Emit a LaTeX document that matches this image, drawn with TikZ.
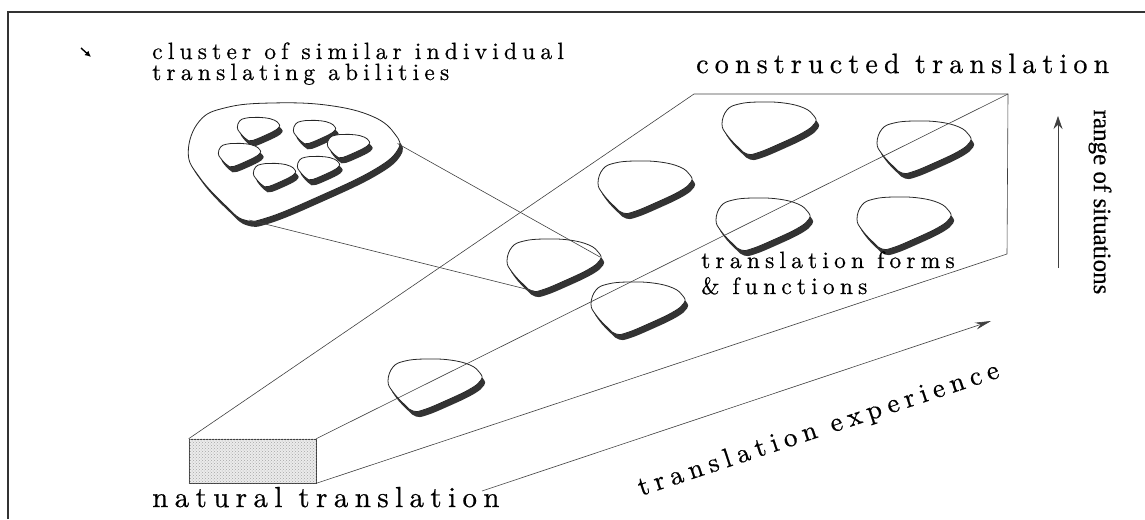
\documentclass[tikz,border=0pt]{standalone}
\usepackage{fontspec}
\usetikzlibrary{arrows.meta,patterns}
\newfontfamily\spacedfont{lmroman10-regular.otf}[LetterSpace=22,FakeBold=0.6]
\newfontfamily\timesfont{Liberation Serif}[FakeBold=0.4]
\newcommand\pickpath{plot[smooth cycle,tension=0.7] coordinates {(-42,-20) (-30,-26) (-10,-28) (15,-27) (35,-22) (45,-14) (46,-7) (35,2) (10,14) (-12,23) (-22,24) (-30,18) (-42,5) (-47,-6)}}
\begin{document}
\begin{tikzpicture}[x=1pt,y=-1pt,
    edge/.style={draw=black!75,line width=0.6pt},
    frame/.style={draw=black!80,line width=1.8pt},
    pickbody/.style={fill=white,draw=black!85,line width=0.8pt},
    pickshade/.style={fill=black!80},
    bigtext/.style={font=\spacedfont\fontsize{29}{34}\selectfont,inner sep=0},
    smalltext/.style={font=\spacedfont\fontsize{23.5}{21}\selectfont,inner sep=0,align=left},
    pics/pick/.style={code={
      \begin{scope}[shift={(3,5.5)},scale=#1]
        \fill[pickshade] \pickpath;
      \end{scope}
      \begin{scope}[scale=#1]
        \path[pickbody] \pickpath;
        \coordinate (-r) at (46,-10);
        \coordinate (-b) at (-20,24);
      \end{scope}
    }}]
  \useasboundingbox (0,0) rectangle (1145,519);
  \draw[frame] (8,519) -- (8,12) -- (1145,12);

  % the cluster and its members
  \pic (cl) at (294,166) {pick=2.25};
  \pic at (258.5,130) {pick=0.45};
  \pic at (314.5,133) {pick=0.45};
  \pic at (348.5,147) {pick=0.45};
  \pic at (239.5,156) {pick=0.45};
  \pic at (274.5,176) {pick=0.45};
  \pic at (318.5,169) {pick=0.45};

  % abilities along the block
  \pic (p1) at (769,130) {pick=1};
  \pic (p2) at (924,149) {pick=1};
  \pic (p3) at (645,189) {pick=1};
  \pic (p4) at (763,226) {pick=1};
  \pic (p5) at (904,225) {pick=1};
  \pic (p6) at (554,267) {pick=1};
  \pic (p7) at (638,310) {pick=1};
  \pic (p8) at (435,387) {pick=1};

  \node[draw=black!75,fill=black!8,line width=0.6pt,inner sep=0,
    minimum width=127pt,minimum height=44pt] (natbox) at (252.5,461) {};
  \fill[pattern=crosshatch dots,pattern color=black!35]
    (natbox.south west) rectangle (natbox.north east);
  \coordinate (ftl) at (694,94);
  \coordinate (ftr) at (1008,94);
  \coordinate (fbr) at (1007,254);
  \coordinate (xs) at (482,491);
  \coordinate (xe) at (991,321);
  \coordinate (rs) at (1058,268);
  \coordinate (re) at (1058,116);

  \draw[edge] (natbox.north west) -- (ftl) -- (ftr) -- (fbr) -- (natbox.south east);
  \draw[edge] (natbox.north east) -- (ftr);
  \draw[edge] (cl-r) -- (p6-r);
  \draw[edge] (cl-b) -- (p6-b);
  \draw[edge,-{Stealth[length=16pt,width=7pt]}] (xs) -- (xe);
  \draw[edge,-{Stealth[length=13pt,width=9pt]}] (rs) -- (re);
  \draw[line width=1.4pt,-{Latex[length=6pt,width=6pt]}] (81,48) -- (91,57);

  \node[smalltext,anchor=base west] (cluster) at (152,80)
    {cluster of similar individual\\translating abilities};
  \node[bigtext,font=\spacedfont\fontsize{28}{33}\selectfont,anchor=base west]
    (built) at (696,73) {constructed translation};
  \node[smalltext,font=\spacedfont\fontsize{23.5}{26}\selectfont,anchor=base west]
    (forms) at (701,294) {translation forms\\\& functions};
  \node[bigtext,anchor=base west] (natural) at (152,507) {natural translation};
  \node[bigtext,font=\spacedfont\fontsize{27}{32}\selectfont,rotate=18.3,
    anchor=base west] (experience) at (641,496) {translation experience};
  \node[font=\timesfont\fontsize{25}{30}\selectfont,inner sep=0,rotate=-90]
    (range) at (1100,202) {range of situations};
\end{tikzpicture}
\end{document}
